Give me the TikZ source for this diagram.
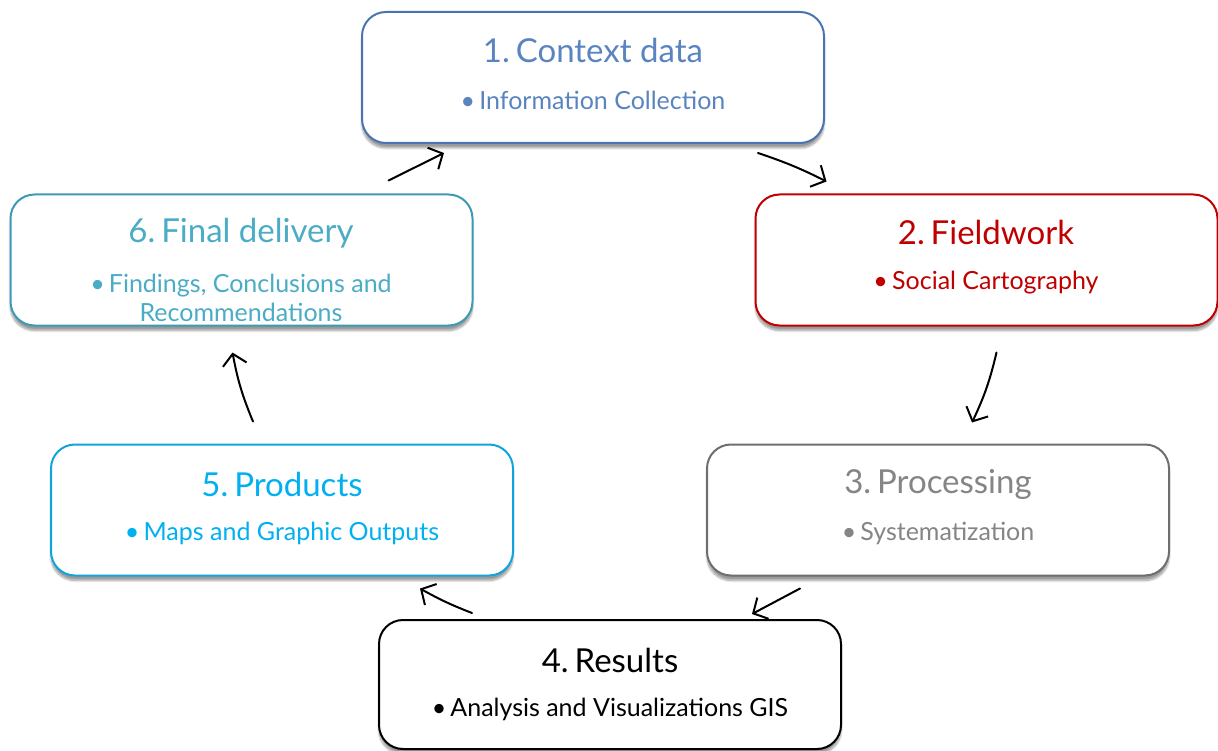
\documentclass[tikz,border=0pt]{standalone}
\usepackage{fontspec}
\setmainfont{Lato}
\usetikzlibrary{arrows.meta,calc,shadows.blur}

\definecolor{cctx}{HTML}{5A84C0}
\definecolor{cctxb}{HTML}{4A74B0}
\definecolor{cfld}{HTML}{C00000}
\definecolor{cprc}{HTML}{858585}
\definecolor{cprcb}{HTML}{6E6E6E}
\definecolor{cres}{HTML}{000000}
\definecolor{cprd}{HTML}{00B0F0}
\definecolor{cprdb}{HTML}{10A4DC}
\definecolor{cfin}{HTML}{4BACC6}
\definecolor{cfinb}{HTML}{3E9AB4}

\newcommand{\stepgap}{\hspace{0.18em}}

\tikzset{
  stagebox/.style={draw=#1, line width=2pt, fill=white, rounded corners=24pt,
    minimum width=462pt, minimum height=131pt,
    blur shadow={shadow xshift=0pt, shadow yshift=-5pt, shadow blur steps=10, shadow opacity=40}},
  stagetitle/.style={text=#1, font=\fontsize{33}{38}\selectfont, inner sep=0pt},
  stagesub/.style={text=#1, font=\fontsize{25}{29}\selectfont, inner sep=0pt, align=center},
  flow/.style={draw=black, line width=2pt, line cap=round,
    -{Straight Barb[length=11pt,width=24pt,line width=2pt]}}
}

\begin{document}
\begin{tikzpicture}[x=1pt,y=-1pt]
\useasboundingbox (0,0) rectangle (1218,751);

% stage boxes
\node[stagebox=cctxb] (b1) at (593,77.5) {};
\node[stagebox=cfld]  (b2) at (986.5,260) {};
\node[stagebox=cprcb] (b3) at (938,510) {};
\node[stagebox=black, minimum height=129pt] (b4) at (610,684.5) {};
\node[stagebox=cprdb] (b5) at (282,510) {};
\node[stagebox=cfinb] (b6) at (241.5,260) {};

% titles
\node[stagetitle=cctx] (t1) at (593,50) {1.\stepgap Context data};
\node[stagetitle=cfld] (t2) at (986,232) {2.\stepgap Fieldwork};
\node[stagetitle=cprc] (t3) at (938,484) {3.\stepgap Processing};
\node[stagetitle=cres] (t4) at (610,660) {4.\stepgap Results};
\node[stagetitle=cprd] (t5) at (282,484) {5.\stepgap Products};
\node[stagetitle=cfin] (t6) at (241,233) {6.\stepgap Final delivery};

% bullet items
\node[stagesub=cctx] (s1) at (593,100) {•\,Information Collection};
\node[stagesub=cfld] (s2) at (986,283) {•\,Social Cartography};
\node[stagesub=cprc] (s3) at (938,533) {•\,Systematization};
\node[stagesub=cres] (s4) at (610,709) {•\,Analysis and Visualizations GIS};
\node[stagesub=cprd] (s5) at (282,533) {•\,Maps and Graphic Outputs};
\node[stagesub=cfin] (s6) at (241,297.5) {•\,Findings, Conclusions and\\Recommendations};

% cycle arrows
\draw[flow] ($(b6.north)+(147,-13)$) -- ($(b1.south)+(-149,9)$);
\draw[flow] ($(b1.south)+(165,9)$) to[bend left=4] ($(b2.north)+(-160,-12)$);
\draw[flow] ($(b2.south)+(10,26)$) to[bend left=6] ($(b3.north)+(34,-21)$);
\draw[flow] ($(b3.south)+(-138,12)$) -- ($(b4.north)+(142,-5)$);
\draw[flow] ($(b4.north)+(-138,-6)$) to[bend left=4] ($(b5.south)+(138,12)$);
\draw[flow] ($(b5.north)+(-29,-22)$) to[bend left=6] ($(b6.south)+(-9,26)$);
\end{tikzpicture}
\end{document}
